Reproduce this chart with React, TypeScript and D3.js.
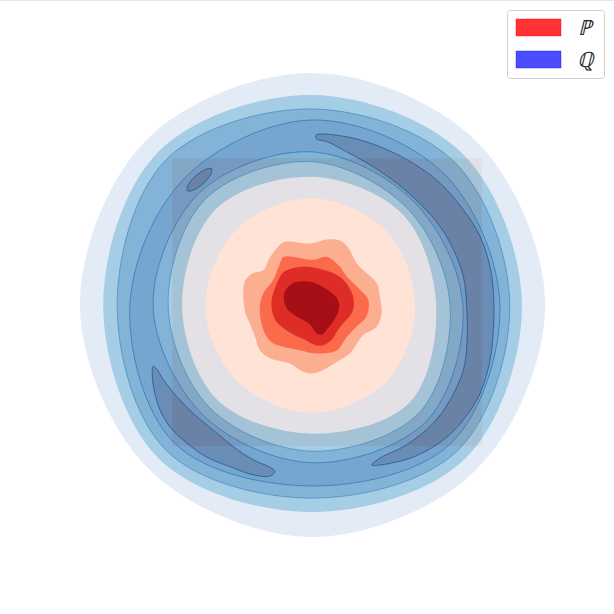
import React from 'react';
import * as d3 from 'd3';

// ---- data (units of the KDE plane) ----
const ANGLES_DEG = [0, 45, 90, 135, 180, 225, 270, 315];

// Q (blue ring) contour boundaries as radii at the angles above
const Q_L1_OUTER = [4.02, 4.0, 4.0, 4.03, 4.0, 3.99, 4.0, 4.01];
const Q_L1_INNER = [1.78, 1.81, 1.84, 1.84, 1.84, 1.84, 1.86, 1.84];
const Q_L2_OUTER = [3.62, 3.68, 3.62, 3.74, 3.6, 3.74, 3.57, 3.74];
const Q_L2_INNER = [2.14, 2.21, 2.21, 2.34, 2.24, 2.31, 2.22, 2.38];
const Q_L3_OUTER = [3.41, 3.48, 3.38, 3.55, 3.36, 3.55, 3.33, 3.55];
const Q_L3_INNER = [2.38, 2.34, 2.47, 2.59, 2.48, 2.5, 2.52, 2.62];
const Q_L4_OUTER = [3.24, 3.21, 3.19, 3.1, 3.14, 3.36, 3.12, 3.38];
const Q_L4_INNER = [2.6, 2.5, 2.64, 2.74, 2.74, 2.67, 2.72, 2.81];

// Q top level: crescents / small island
const Q_L5_RIGHT: [number, number][] = [
  [0.07, 2.93], [0.6, 2.9], [1.17, 2.73], [1.75, 2.44], [2.21, 2.1], [2.61, 1.64], [2.9, 1.18],
  [3.07, 0.66], [3.13, 0.2], [3.13, -0.37], [3.07, -0.95], [2.9, -1.52], [2.61, -1.98],
  [2.26, -2.33], [1.75, -2.62], [1.17, -2.76], [1.03, -2.76],
  [1.17, -2.64], [1.63, -2.41], [2.09, -2.04], [2.38, -1.64], [2.61, -1.12], [2.67, -0.66],
  [2.67, -0.09], [2.61, 0.49], [2.44, 0.95], [2.21, 1.35], [1.86, 1.75], [1.46, 2.1],
  [1.06, 2.38], [0.6, 2.64], [0.25, 2.82], [0.08, 2.86],
];
const Q_L5_LEFT: [number, number][] = [
  [-2.74, -1.06], [-2.75, -1.29], [-2.71, -1.52], [-2.62, -1.81], [-2.45, -2.1], [-2.16, -2.38],
  [-1.82, -2.62], [-1.41, -2.79], [-1.01, -2.93], [-0.72, -2.95], [-0.64, -2.87], [-0.72, -2.8],
  [-1.01, -2.67], [-1.36, -2.44], [-1.7, -2.16], [-2.05, -1.87], [-2.33, -1.58], [-2.56, -1.29],
  [-2.69, -1.09],
];
const Q_L5_ISLAND: [number, number][] = [
  [-1.73, 2.35], [-1.83, 2.34], [-2.0, 2.23], [-2.13, 2.08], [-2.15, 1.97], [-2.05, 1.98],
  [-1.88, 2.09], [-1.75, 2.24],
];

// P (red blob) contour polygons
const P_EXTENT_X = [-2.41, 2.93];
const P_EXTENT_Y = [-2.43, 2.53];
const P_L2: [number, number][] = [
  [-0.47, 1.09], [-0.03, 1.06], [0.25, 1.13], [0.48, 1.11], [0.63, 0.98], [0.77, 0.72],
  [0.94, 0.55], [1.12, 0.37], [1.17, 0.14], [1.2, -0.14], [1.12, -0.37], [0.88, -0.52],
  [0.74, -0.72], [0.66, -0.83], [0.48, -0.95], [0.25, -1.09], [0.02, -1.18], [-0.15, -1.15],
  [-0.38, -1.01], [-0.72, -0.92], [-0.9, -0.78], [-0.98, -0.55], [-1.07, -0.32], [-1.16, -0.09],
  [-1.16, 0.4], [-1.01, 0.55], [-0.84, 0.6], [-0.72, 0.83], [-0.58, 1.01],
];
const P_L3: [number, number][] = [
  [-0.49, 0.83], [0.02, 0.78], [0.25, 0.83], [0.48, 0.66], [0.6, 0.49], [0.83, 0.26],
  [0.97, 0.09], [0.94, -0.2], [0.77, -0.37], [0.6, -0.55], [0.43, -0.78], [0.25, -0.83],
  [0.02, -0.83], [-0.21, -0.78], [-0.49, -0.72], [-0.67, -0.66], [-0.78, -0.55], [-0.87, -0.32],
  [-0.9, -0.03], [-0.84, 0.2], [-0.67, 0.43], [-0.55, 0.72],
];
const P_L4: [number, number][] = [
  [-0.49, 0.57], [-0.32, 0.64], [-0.09, 0.66], [0.14, 0.62], [0.34, 0.56], [0.51, 0.46],
  [0.63, 0.32], [0.71, 0.14], [0.72, -0.03], [0.66, -0.18], [0.53, -0.32], [0.43, -0.46],
  [0.34, -0.6], [0.21, -0.69], [0.05, -0.69], [-0.12, -0.6], [-0.32, -0.51], [-0.49, -0.4],
  [-0.62, -0.28], [-0.69, -0.09], [-0.69, 0.12], [-0.62, 0.34], [-0.55, 0.49],
];
const P_L5: [number, number][] = [
  [-0.38, 0.34], [-0.26, 0.4], [-0.03, 0.4], [0.14, 0.34], [0.31, 0.23], [0.43, 0.12],
  [0.47, -0.03], [0.43, -0.17], [0.34, -0.32], [0.25, -0.43], [0.17, -0.51], [0.08, -0.49],
  [-0.03, -0.34], [-0.21, -0.23], [-0.41, -0.09], [-0.48, 0.06], [-0.47, 0.23],
];

const P_COLORS = ['#fee3d6', '#fcae91', '#fb6a4a', '#de2d26', '#a50f15'];
const Q_COLORS = ['#d2dff2', '#6baed6', '#3182bd', '#1c6bb0', '#084287'];
const LEGEND_LABELS = ['ℙ', 'ℚ'];
const LEGEND_COLORS = ['rgba(255,0,0,0.8)', 'rgba(0,0,255,0.7)'];

export default function App() {
  const W = 614;
  const H = 614;
  const x = d3.scaleLinear().domain([-4, 4]).range([80, 544]);
  const y = d3.scaleLinear().domain([-4, 4]).range([537, 73]);

  const curve = d3.curveCatmullRomClosed.alpha(0.5);
  const poly = d3
    .line<[number, number]>()
    .x((d) => x(d[0]))
    .y((d) => y(d[1]))
    .curve(curve);
  const radial = (radii: number[]) =>
    poly(
      radii.map((r, i) => {
        const a = (ANGLES_DEG[i] * Math.PI) / 180;
        return [r * Math.cos(a), r * Math.sin(a)] as [number, number];
      })
    ) as string;

  const rings = [
    [Q_L1_OUTER, Q_L1_INNER],
    [Q_L2_OUTER, Q_L2_INNER],
    [Q_L3_OUTER, Q_L3_INNER],
    [Q_L4_OUTER, Q_L4_INNER],
  ];
  const ringPaths = rings.map(([o, i]) => radial(o) + radial(i));
  const topPaths = [Q_L5_RIGHT, Q_L5_LEFT, Q_L5_ISLAND].map((p) => poly(p) as string);
  const pPaths = [P_L2, P_L3, P_L4, P_L5].map((p) => poly(p) as string);

  return (
    <svg
      width={W}
      height={H}
      style={{ position: 'absolute', left: 0, top: 0, background: '#fff' }}
    >
      <line x1={0} x2={W} y1={0.5} y2={0.5} stroke="#e8e8e8" />
      {/* P: red filled contours */}
      <g>
        <rect
          x={x(P_EXTENT_X[0])}
          y={y(P_EXTENT_Y[1])}
          width={x(P_EXTENT_X[1]) - x(P_EXTENT_X[0])}
          height={y(P_EXTENT_Y[0]) - y(P_EXTENT_Y[1])}
          fill={P_COLORS[0]}
        />
        {pPaths.map((d, i) => (
          <path key={i} d={d} fill={P_COLORS[i + 1]} />
        ))}
      </g>
      {/* Q: blue filled contours, translucent */}
      <g opacity={0.6}>
        {ringPaths.map((d, i) => (
          <path key={i} d={d} fill={Q_COLORS[i]} fillRule="evenodd" />
        ))}
        {topPaths.map((d, i) => (
          <path key={i} d={d} fill={Q_COLORS[4]} />
        ))}
      </g>
      <g opacity={0.6} fill="none" strokeWidth={1}>
        {ringPaths.slice(2).map((d, i) => (
          <path key={i} d={d} stroke={Q_COLORS[i + 2]} />
        ))}
        {topPaths.map((d, i) => (
          <path key={i} d={d} stroke={Q_COLORS[4]} />
        ))}
      </g>
      {/* legend */}
      <g>
        <rect x={507.5} y={10.5} width={97} height={68} rx={3} fill="rgba(255,255,255,0.8)" stroke="#d0d0d0" />
        {LEGEND_LABELS.map((lab, i) => (
          <g key={lab}>
            <rect x={516} y={19 + i * 32} width={45} height={17} fill={LEGEND_COLORS[i]} stroke={LEGEND_COLORS[i]} strokeWidth={0.5} />
            <text
              x={0}
              y={0}
              transform={`translate(587,${28 + i * 32}) skewX(-14)`}
              textAnchor="middle"
              dominantBaseline="central"
              fontFamily="DejaVu Sans"
              fontSize={21}
              fontWeight={300}
              fill="#222"
            >
              {lab}
            </text>
          </g>
        ))}
      </g>
    </svg>
  );
}
